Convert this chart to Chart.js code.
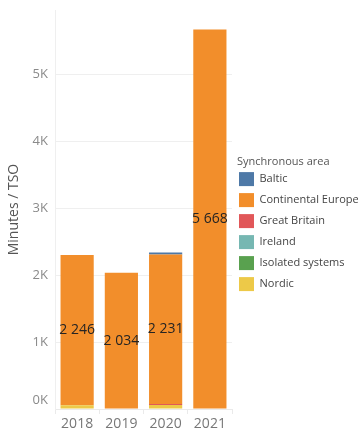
<!DOCTYPE html>
<html>
<head>
<meta charset="utf-8">
<script src="https://cdn.jsdelivr.net/npm/chart.js@4/dist/chart.umd.min.js"></script>
<style>
  html, body { margin: 0; padding: 0; background: #fff; }
  #wrap { width: 358px; height: 432px; position: relative; }
</style>
</head>
<body>
<div id="wrap"><canvas id="c"></canvas></div>
<script>
// Minutes per TSO by synchronous area
const years = ['2018', '2019', '2020', '2021'];
const areaNames = ['Baltic', 'Continental Europe', 'Great Britain', 'Ireland', 'Isolated systems', 'Nordic'];
const baltic = [0, 0, 30, 0];
const continental = [2246, 2034, 2231, 5668];
const greatBritain = [0, 0, 15, 0];
const ireland = [0, 0, 0, 0];
const isolatedSystems = [0, 0, 0, 0];
const nordic = [55, 0, 60, 0];
const yTickValues = [0, 1000, 2000, 3000, 4000, 5000];

const seriesValues = [baltic, continental, greatBritain, ireland, isolatedSystems, nordic];
const areaColors = ['#4E79A7', '#F28E2B', '#E15759', '#76B7B2', '#59A14F', '#EDC948'];
// stacking from the bottom: Nordic, Great Britain, Ireland, Isolated, Continental, Baltic
const stackOrder = [5, 4, 1, 2, 3, 0];

const FONT = "'Segoe UI', 'Open Sans', sans-serif";

const fmt = v => Math.round(v).toString().replace(/\B(?=(\d{3})+(?!\d))/g, ' ');

// value labels in the middle of the Continental Europe segments
const segmentLabels = {
  id: 'segmentLabels',
  afterDatasetsDraw(chart) {
    const ctx = chart.ctx;
    const meta = chart.getDatasetMeta(1);
    ctx.save();
    ctx.font = '14px ' + FONT;
    ctx.fillStyle = '#252423';
    ctx.textAlign = 'center';
    ctx.textBaseline = 'middle';
    meta.data.forEach((el, i) => {
      const v = continental[i];
      if (!v) return;
      ctx.fillText(fmt(v), el.x, (el.y + el.base) / 2);
    });
    ctx.restore();
  }
};

// the zero label sits just above the baseline
const zeroLabel = {
  id: 'zeroLabel',
  afterDraw(chart) {
    const y = chart.scales.y;
    const ctx = chart.ctx;
    ctx.save();
    ctx.font = '13px ' + FONT;
    ctx.fillStyle = '#8a8a8a';
    ctx.textAlign = 'right';
    ctx.textBaseline = 'middle';
    ctx.fillText('0K', chart.chartArea.left - 7, y.getPixelForValue(0) - 9);
    ctx.restore();
  }
};

// nudge the legend title so it lines up just left of the colour boxes
const legendTitleShift = {
  id: 'legendTitleShift',
  afterLayout(chart) {
    const lg = chart.legend;
    if (!lg || lg._titleShifted) return;
    const orig = lg.drawTitle;
    lg.drawTitle = function () {
      this.ctx.save();
      this.ctx.translate(5, 0);
      orig.call(this);
      this.ctx.restore();
    };
    lg._titleShifted = true;
  }
};

function draw() {
  new Chart(document.getElementById('c'), {
    type: 'bar',
    data: {
      labels: years,
      datasets: areaNames.map((name, i) => ({
        label: name,
        data: seriesValues[i],
        backgroundColor: areaColors[i],
        borderWidth: 0,
        order: stackOrder[i],
        categoryPercentage: 1,
        barPercentage: 0.75
      }))
    },
    options: {
      responsive: true,
      maintainAspectRatio: false,
      animation: false,
      layout: { padding: { top: 10, left: 0, right: 0, bottom: 0 } },
      plugins: {
        tooltip: { enabled: false },
        legend: {
          position: 'right',
          align: 'center',
          maxWidth: 126,
          title: {
            display: true,
            position: 'start',
            text: 'Synchronous area',
            color: '#555',
            font: { family: FONT, size: 11 },
            padding: { top: 12, bottom: -4 }
          },
          labels: {
            boxWidth: 15,
            boxHeight: 14,
            padding: 7,
            color: '#444',
            font: { family: FONT, size: 11 },
            sort: (a, b) => a.datasetIndex - b.datasetIndex
          }
        }
      },
      scales: {
        x: {
          stacked: true,
          offset: true,
          grid: { display: true, drawOnChartArea: false, drawTicks: true, tickLength: 5, color: '#eaeaea', offset: true },
          border: { display: true, color: '#eaeaea' },
          ticks: { color: '#777', font: { family: FONT, size: 14 }, padding: 2 },
          afterFit: s => { s.height = 23; }
        },
        y: {
          stacked: true,
          min: 0,
          max: 5960,
          afterBuildTicks: s => { s.ticks = yTickValues.map(v => ({ value: v })); },
          grid: { color: '#efefef', drawTicks: false },
          border: { display: true, color: '#efefef' },
          ticks: {
            color: '#8a8a8a',
            padding: 7,
            font: { family: FONT, size: 13 },
            callback: v => (v === 0 ? '' : (v / 1000) + 'K')
          },
          title: {
            display: true,
            text: 'Minutes / TSO',
            color: '#555',
            font: { family: FONT, size: 14 },
            padding: { top: 6, bottom: 0 }
          },
          afterFit: s => { s.width = 55; s.paddingTop = 0; s.paddingBottom = 0; }
        }
      }
    },
    plugins: [segmentLabels, zeroLabel, legendTitleShift]
  });
}

// make sure text widths are measured with the real face
Promise.all([
  document.fonts.load("11px 'Open Sans'"),
  document.fonts.load("13px 'Open Sans'"),
  document.fonts.load("14px 'Open Sans'")
]).then(draw, draw);
</script>
</body>
</html>
